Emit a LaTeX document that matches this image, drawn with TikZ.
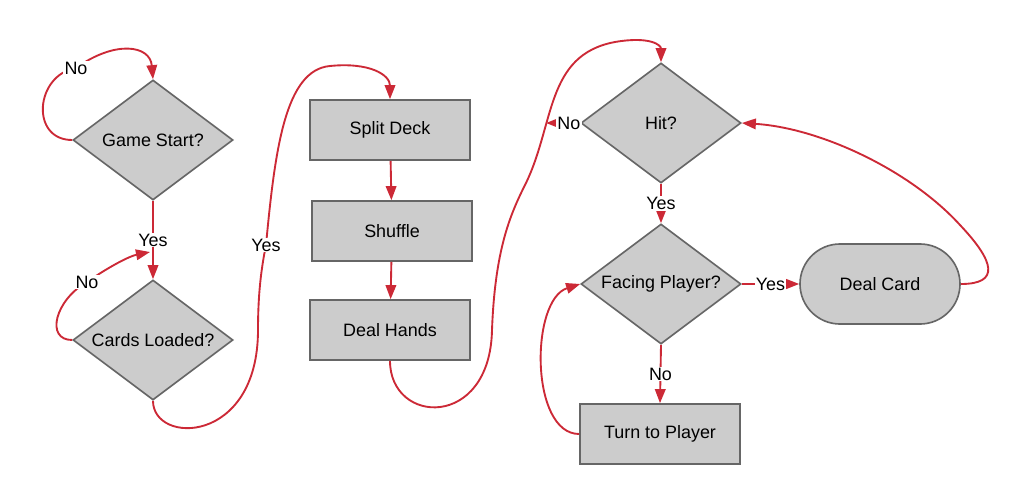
\documentclass[tikz,border=0pt]{standalone}
\usepackage{fontspec}
\setmainfont{Liberation Sans}
\usetikzlibrary{arrows.meta,shapes,positioning,calc}
\definecolor{flowred}{RGB}{204,41,54}
\definecolor{boxfill}{RGB}{204,204,204}
\definecolor{boxline}{RGB}{102,102,102}

\begin{document}
\begin{tikzpicture}[x=0.03cm, y=-0.03cm,
    font=\fontsize{15.3}{18}\selectfont,
    decision/.style={diamond, aspect=1.333, minimum width=4.8cm, minimum height=3.6cm, inner sep=0pt, text centered, draw=boxline, fill=boxfill, line width=1.4pt},
    process/.style={rectangle, minimum width=4.8cm, minimum height=1.8cm, text centered, draw=boxline, fill=boxfill, line width=1.4pt},
    terminal/.style={rectangle, rounded corners=1.2cm, minimum width=4.8cm, minimum height=2.4cm, text centered, draw=boxline, fill=boxfill, line width=1.4pt},
    arrow/.style={-{Triangle[length=12pt,width=9pt]}, draw=flowred, line width=1.6pt},
    lbl/.style={fill=white, inner sep=1pt}
]
\useasboundingbox (0,0) rectangle (1032,504);

% Decisions
\node[decision] (gamestart) at (153,140) {Game Start?};
\node[decision] (cardsloaded) at (153,340) {Cards Loaded?};
\node[decision] (hit) at (661,123) {Hit?};
\node[decision] (facing) at (661,284) {Facing Player?};

% Steps
\node[process] (splitdeck) at (390,130) {Split Deck};
\node[process] (shuffle) at (392,231) {Shuffle};
\node[process] (dealhands) at (390,330) {Deal Hands};
\node[process] (turnplayer) at (660,434) {Turn to Player};
\node[terminal] (dealcard) at (880,284) {Deal Card};

% Free ends
\coordinate (yesjoin) at (150,252);
\coordinate (hitno) at (546,123);

% Arrows
\draw[arrow] (gamestart.west) .. controls (30,140) and (35,75) .. (76,68) node[lbl] {No}
    .. controls (115,40) and (150,45) .. (gamestart.north);
\draw[arrow] (gamestart.south) -- node[lbl, pos=0.5] {Yes} (cardsloaded.north);
\draw[arrow] (cardsloaded.west) .. controls (45,340) and (55,300) .. (87,282) node[lbl] {No}
    .. controls (110,266) and (130,256) .. (yesjoin);
\draw[arrow] (cardsloaded.south) .. controls (153,445) and (258,445) .. (258,330)
    .. controls (258,290) and (262,265) .. (266,245) node[lbl] {Yes}
    .. controls (275,150) and (285,70) .. (330,66)
    .. controls (370,62) and (390,75) .. (splitdeck.north);
\draw[arrow] (splitdeck) -- (shuffle);
\draw[arrow] (shuffle) -- (dealhands);
\draw[arrow] (dealhands.south) .. controls (390,425) and (490,430) .. (492,330)
    .. controls (495,250) and (510,215) .. (525,185)
    .. controls (555,125) and (545,55) .. (615,42)
    .. controls (650,36) and (661,45) .. (hit.north);
\draw[arrow] (hit.west) -- node[lbl, pos=0.33] {No} (hitno);
\draw[arrow] (hit.south) -- node[lbl] {Yes} (facing.north);
\draw[arrow] (facing.east) -- node[lbl] {Yes} (dealcard.west);
\draw[arrow] (facing.south) -- node[lbl] {No} (turnplayer.north);
\draw[arrow] (turnplayer.west) .. controls (530,434) and (530,300) .. (facing.west);
\draw[arrow] (dealcard.east) .. controls (1000,284) and (995,262) .. (960,225)
    .. controls (910,170) and (820,128) .. (hit.east);
\end{tikzpicture}
\end{document}
